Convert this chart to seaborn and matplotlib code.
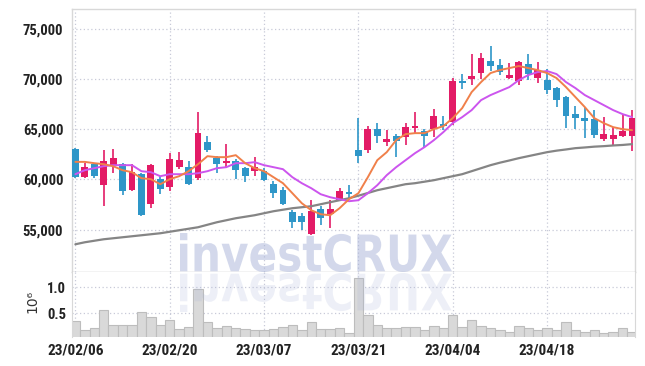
import numpy as np
import pandas as pd
import matplotlib
matplotlib.use('Agg')
import matplotlib.pyplot as plt
import seaborn as sns
from matplotlib.textpath import TextPath
from matplotlib.patches import PathPatch
from matplotlib.font_manager import FontProperties
from matplotlib.transforms import Affine2D, IdentityTransform
from matplotlib.ticker import FuncFormatter

# OHLC (KRW)
open_ = [63000, 60200, 61500, 59500, 61300, 61500, 59000, 60500, 57600, 60000,
         59300, 61200, 61200, 60100, 63700, 62100, 61600, 61800, 61100, 60800,
         60800, 59600, 59000, 56800, 56400, 54600, 57100, 56600, 58000, 58800,
         62900, 62900, 65000, 63700, 64300, 64200, 65100, 64800, 65000, 65500,
         65700, 69800, 70000, 70600, 71800, 71400, 70100, 69800, 71500, 70100,
         69900, 69100, 68200, 66500, 66100, 66000, 64000, 64000, 64300, 64300]
close = [60200, 61200, 60300, 61800, 62100, 58900, 60700, 56500, 61400, 59100,
         62000, 61900, 59600, 64600, 62900, 61500, 61800, 60900, 60300, 61200,
         59900, 58700, 57600, 55800, 55800, 56900, 56200, 57100, 58900, 58600,
         62300, 65000, 64300, 64000, 63800, 65200, 65300, 64300, 66300, 65300,
         69800, 69600, 70300, 72100, 71300, 70700, 70400, 71700, 70500, 70900,
         68900, 67900, 66300, 66100, 65800, 64400, 64500, 64400, 64800, 66100]
high = [63100, 61600, 61600, 62900, 63000, 61600, 61500, 60600, 61500, 60300,
        62600, 62700, 61800, 66700, 64300, 62300, 63500, 62000, 61200, 62200,
        61100, 59800, 59300, 57000, 56700, 58000, 57400, 58000, 59200, 59500,
        66100, 65300, 65600, 64900, 64500, 65600, 66700, 65000, 67000, 66300,
        70100, 70500, 72500, 72600, 73300, 72000, 71600, 71800, 72500, 71700,
        71000, 69200, 68300, 67300, 67200, 66900, 66200, 65200, 66400, 66900]
low = [60100, 60100, 60100, 57400, 60600, 58500, 58900, 56400, 57200, 58600,
       58900, 61000, 59500, 59900, 62700, 60600, 61200, 60000, 59700, 60300,
       59800, 58200, 57500, 55200, 55000, 54500, 55500, 55200, 57900, 58200,
       61600, 62600, 63600, 63300, 62200, 63400, 64600, 63200, 64200, 64900,
       65400, 69000, 69400, 70000, 70800, 70400, 70000, 69400, 69900, 69600,
       68500, 67200, 65100, 65000, 64100, 64100, 63800, 63400, 64200, 62800]

# volume in millions of shares
volume = [0.35, 0.18, 0.21, 0.56, 0.27, 0.27, 0.27, 0.52, 0.42, 0.27,
          0.37, 0.20, 0.23, 0.97, 0.33, 0.21, 0.25, 0.21, 0.19, 0.17,
          0.17, 0.20, 0.24, 0.27, 0.17, 0.33, 0.20, 0.20, 0.21, 0.12,
          1.18, 0.47, 0.27, 0.21, 0.21, 0.23, 0.23, 0.18, 0.25, 0.21,
          0.47, 0.23, 0.37, 0.25, 0.21, 0.18, 0.14, 0.25, 0.21, 0.18,
          0.21, 0.17, 0.33, 0.17, 0.15, 0.17, 0.13, 0.15, 0.21, 0.15]

# moving averages as drawn (they use history before the window)
ma5 = [61760, 61760, 61630, 61530, 61330, 60930, 60730, 60130, 60030, 59530,
       60030, 60330, 60830, 61530, 62330, 62230, 62230, 62430, 61630, 61130,
       60830, 60230, 59630, 58630, 57630, 56930, 56530, 56430, 57130, 58030,
       58630, 60230, 61930, 62730, 63930, 64530, 64630, 64630, 65030, 65330,
       66130, 67130, 68730, 69730, 70630, 70930, 71130, 71330, 71130, 70930,
       70630, 70130, 69230, 68230, 67230, 66130, 65630, 65230, 65030, 64930]
ma20 = [60530, 60930, 61130, 61330, 61430, 61430, 61430, 60830, 60730, 60330,
        60530, 60530, 60530, 60630, 60830, 61130, 61230, 61630, 61630, 61730,
        61430, 61230, 61030, 60230, 59630, 59130, 58530, 58230, 58030, 57830,
        57930, 58630, 59430, 60430, 61230, 61930, 62630, 63230, 63930, 64730,
        65630, 66230, 66930, 67930, 68430, 68830, 69230, 69930, 70430, 70730,
        70830, 70530, 69730, 69130, 68430, 67930, 67430, 66930, 66530, 66230]
ma_long = [53530, 53730, 53880, 54030, 54130, 54230, 54330, 54430, 54530, 54630,
           54780, 54930, 55080, 55230, 55480, 55730, 55930, 56130, 56280, 56430,
           56630, 56830, 56980, 57130, 57230, 57330, 57530, 57730, 57930, 58130,
           58380, 58650, 58930, 59130, 59330, 59530, 59630, 59780, 59930, 60130,
           60330, 60530, 60830, 61130, 61430, 61680, 61900, 62130, 62330, 62530,
           62730, 62880, 63000, 63130, 63200, 63280, 63330, 63400, 63450, 63530]

dates = pd.bdate_range('2023-02-06', periods=len(close), freq='C',
                       holidays=['2023-03-01', '2023-05-01'])

RED = '#e31b66'
BLUE = '#2e96c8'
ORANGE = '#f0804a'
PURPLE = '#cc55ee'
GRAY = '#858585'
GRID = '#c8cad8'
SPINE = '#d8d8d8'

sns.set_style('white')
plt.rcParams['font.family'] = ['Roboto Condensed', 'Liberation Sans Narrow', 'Roboto']
plt.rcParams['font.weight'] = 'bold'

fig = plt.figure(figsize=(6.45, 3.66), dpi=100)
ax = fig.add_axes([0.111, 0.256, 0.874, 0.7186])
axv = fig.add_axes([0.111, 0.0792, 0.874, 0.1768])

x = np.arange(len(close))
o = np.array(open_)
c = np.array(close)
colors = np.where(c >= o, RED, BLUE)

# candles
ax.vlines(x, low, high, colors=colors, linewidth=1.2, zorder=2)
body_lo = np.minimum(o, c)
body_h = np.maximum(np.abs(c - o), 170)
ax.bar(x, body_h, bottom=body_lo, width=0.72, color=colors, linewidth=0, zorder=3)

# moving averages
sns.lineplot(x=x, y=ma_long, ax=ax, color=GRAY, linewidth=1.6, zorder=4)
sns.lineplot(x=x, y=ma20, ax=ax, color=PURPLE, linewidth=1.4, zorder=5)
sns.lineplot(x=x, y=ma5, ax=ax, color=ORANGE, linewidth=1.4, zorder=6)

ax.set_xlim(-0.4, 59.35)
ax.set_ylim(50730, 77000)
ax.set_yticks([55000, 60000, 65000, 70000, 75000])
ax.yaxis.set_major_formatter(FuncFormatter(lambda v, p: f'{v:,.0f}'))
ax.set_xticks(x[::10])
ax.set_xticklabels([])
ax.set_xlabel('')
ax.set_ylabel('')
ax.grid(True, linestyle=(0, (1, 2)), color=GRID, linewidth=0.9)
ax.tick_params(length=0, pad=6, labelsize=10.5, labelcolor='#222222')
for s in ax.spines.values():
    s.set_color(SPINE)
    s.set_linewidth(1)
ax.spines['bottom'].set_color('#c4c4c4')

# volume
sns.barplot(x=x, y=volume, ax=axv, color='#d9d9d9', edgecolor='#bdbdbd',
            linewidth=0.8, width=1.0, saturation=1, zorder=2)
axv.set_xlim(-0.4, 59.35)
axv.set_ylim(0.044, 1.29)
axv.set_yticks([0.5, 1.0])
axv.set_yticklabels(['0.5', '1.0'])
axv.set_xticks(x[::10])
axv.set_xticklabels(dates[::10].strftime('%y/%m/%d'))
axv.set_xlabel('')
axv.set_ylabel('')
axv.grid(True, linestyle=(0, (1, 2)), color=GRID, linewidth=0.9)
axv.set_axisbelow(True)
axv.tick_params(length=0, pad=4, labelsize=10.5, labelcolor='#222222')
axv.tick_params(axis='x', pad=5, labelsize=11)
for s in axv.spines.values():
    s.set_color(SPINE)
axv.spines['top'].set_visible(False)
axv.spines['bottom'].set_visible(False)

fig.text(32 / 645, 1 - 301 / 366, '10\u2076', rotation=90, ha='center', va='center',
         fontsize=10, color='#333333', family='DejaVu Sans', fontweight='normal')

# watermark with its reflection
tp = TextPath((0, 0), 'investCRUX', size=50,
              prop=FontProperties(family='DejaVu Sans', weight='bold'))
ext = tp.get_extents()
sx = 272 / ext.width
sy = 39 / ext.height
base = Affine2D().translate(-ext.x0, -ext.y0)
main_tr = base + Affine2D().scale(sx, sy).translate(180, 366 - 272)
mirror_tr = base + Affine2D().scale(sx, -sy).translate(180, 366 - 273)
fig.add_artist(PathPatch(main_tr.transform_path(tp), facecolor='#a8b3d8', edgecolor='none',
                         alpha=0.5, transform=IdentityTransform(), zorder=10))
fig.add_artist(PathPatch(mirror_tr.transform_path(tp), facecolor='#a8b3d8', edgecolor='none',
                         alpha=0.2, transform=IdentityTransform(), zorder=10))

fig.savefig('out.png', dpi=100, facecolor='white')
